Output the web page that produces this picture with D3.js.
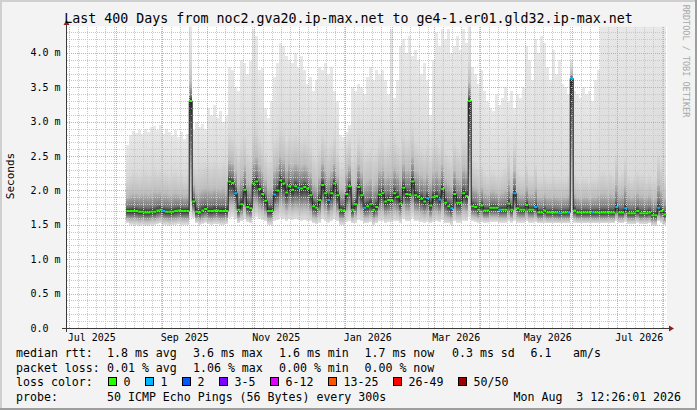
<!DOCTYPE html>
<html><head><meta charset="utf-8">
<script src="https://cdn.jsdelivr.net/npm/d3@7"></script>
<style>
body{margin:0;background:#f3f3f3;}
svg{display:block;}
text{font-family:"DejaVu Sans Mono",monospace;white-space:pre;}
</style>
</head><body>
<svg id="chart" width="697" height="410"></svg>
<script>
// ---------------- DATA ----------------
const title = "Last 400 Days from noc2.gva20.ip-max.net to ge4-1.er01.gld32.ip-max.net";
const endTime = new Date(Date.UTC(2026, 7, 3, 12, 26, 1));
const spanDays = 400;
const firstBin = new Date(Date.UTC(2025, 7, 8));
const binDays = 2;

// median rtt per bin (ms)
const median = [
1.70,1.70,1.70,1.70,1.69,1.69,1.68,1.68,1.69,1.69,
1.71,1.72,1.70,1.69,1.69,1.69,1.70,1.71,1.70,1.70,
1.70,3.30,1.84,1.69,1.68,1.71,1.73,1.70,1.70,1.71,
1.71,1.70,1.70,1.70,2.13,2.11,1.96,1.72,1.80,2.01,
1.76,1.74,2.10,2.13,2.02,1.95,1.85,1.70,1.70,1.94,
2.00,2.15,2.10,1.97,2.06,2.01,2.06,2.04,2.03,2.05,
2.03,1.93,1.77,1.75,1.86,2.08,1.96,1.86,1.96,2.10,
1.93,1.72,1.71,1.95,2.06,1.72,1.80,2.05,1.93,1.75,
1.77,1.80,1.72,1.76,1.94,1.96,1.84,1.86,1.86,1.96,
1.91,1.81,2.04,1.95,1.94,2.13,1.93,1.91,1.88,1.84,
1.89,1.78,1.90,1.92,1.87,2.02,1.82,1.77,1.74,1.95,
1.82,1.82,1.96,1.92,3.30,1.77,1.76,1.72,1.78,1.71,
1.71,1.75,1.75,1.75,1.72,1.72,1.72,1.81,1.72,1.96,
1.74,1.72,1.72,1.79,1.72,1.72,1.76,1.68,1.68,1.71,
1.68,1.68,1.68,1.68,1.67,1.68,1.68,1.68,3.63,1.71,
1.68,1.68,1.68,1.68,1.68,1.68,1.68,1.68,1.68,1.68,
1.68,1.68,1.68,1.76,1.68,1.68,1.74,1.67,1.67,1.67,
1.70,1.67,1.67,1.67,1.68,1.64,1.64,1.75,1.70,1.65
];
// lowest ping per bin (ms)
const smokeLow = [
1.52,1.50,1.50,1.50,1.49,1.50,1.49,1.49,1.50,1.50,
1.51,1.52,1.50,1.50,1.49,1.50,1.50,1.51,1.50,1.50,
1.50,1.62,1.60,1.52,1.50,1.51,1.53,1.51,1.50,1.51,
1.51,1.50,1.50,1.51,1.60,1.62,1.58,1.52,1.55,1.58,
1.54,1.52,1.60,1.62,1.58,1.57,1.55,1.50,1.50,1.56,
1.57,1.60,1.58,1.56,1.58,1.57,1.58,1.57,1.56,1.57,
1.56,1.55,1.52,1.51,1.53,1.58,1.55,1.53,1.55,1.58,
1.55,1.50,1.50,1.54,1.56,1.52,1.53,1.57,1.55,1.52,
1.52,1.54,1.50,1.52,1.55,1.56,1.53,1.54,1.54,1.56,
1.55,1.53,1.58,1.55,1.55,1.60,1.55,1.55,1.54,1.53,
1.54,1.52,1.54,1.55,1.54,1.57,1.52,1.52,1.50,1.55,
1.53,1.53,1.56,1.55,1.62,1.55,1.54,1.53,1.54,1.53,
1.53,1.54,1.54,1.54,1.53,1.53,1.53,1.55,1.53,1.56,
1.53,1.53,1.53,1.55,1.53,1.53,1.54,1.52,1.52,1.53,
1.52,1.52,1.52,1.52,1.52,1.52,1.52,1.52,1.60,1.53,
1.52,1.52,1.52,1.52,1.52,1.52,1.52,1.52,1.52,1.52,
1.52,1.52,1.52,1.55,1.52,1.52,1.54,1.51,1.51,1.51,
1.53,1.51,1.51,1.51,1.52,1.49,1.49,1.55,1.53,1.50
];
// upper edge of the dense smoke per bin (ms)
const smokeDense = [
2.20,2.25,2.30,2.28,2.25,2.30,2.32,2.28,2.30,2.35,
2.30,2.32,2.28,2.30,2.25,2.28,2.30,2.25,2.28,2.22,
2.25,3.90,2.40,2.35,2.38,2.40,2.42,2.45,2.40,2.45,
2.42,2.40,2.45,2.40,2.85,2.80,2.70,2.60,2.75,2.80,
2.60,2.55,2.90,2.95,2.80,2.70,2.55,2.45,2.50,2.75,
2.80,2.95,2.90,2.75,2.85,2.80,2.85,2.80,2.75,2.80,
2.75,2.70,2.55,2.50,2.65,2.85,2.75,2.65,2.70,2.80,
2.60,2.40,2.40,2.65,2.75,2.50,2.55,2.80,2.70,2.55,
2.60,2.65,2.55,2.60,2.75,2.80,2.65,2.70,2.75,2.80,
2.70,2.65,2.85,2.75,2.80,2.95,2.75,2.70,2.65,2.60,
2.70,2.55,2.70,2.75,2.65,2.85,2.60,2.55,2.50,2.75,
2.65,2.60,2.80,2.75,3.90,2.45,2.40,2.35,2.40,2.30,
2.25,2.30,2.30,2.25,2.25,2.30,2.35,2.60,2.30,2.70,
2.30,2.25,2.25,2.40,2.25,2.25,2.40,2.20,2.20,2.25,
2.20,2.20,2.25,2.20,2.20,2.20,2.20,2.25,3.80,2.25,
2.20,2.15,2.20,2.20,2.15,2.20,2.20,2.25,2.30,2.30,
2.25,2.30,2.25,2.55,2.25,2.30,2.50,2.25,2.20,2.25,
2.30,2.25,2.25,2.20,2.25,2.20,2.20,2.55,2.40,2.20
];
// highest ping per bin (ms)
const smokeMax = [
2.66,2.80,2.86,2.84,2.88,2.82,2.90,2.85,2.92,2.94,
2.88,2.95,2.82,2.90,2.85,2.80,2.88,2.78,2.85,2.75,
2.82,4.40,2.88,3.00,2.92,2.96,2.90,3.20,3.10,3.25,
3.05,3.15,3.00,3.10,3.80,3.75,3.50,3.45,3.90,3.85,
3.70,3.88,4.35,4.25,3.75,3.78,3.20,3.05,3.30,3.65,
3.85,4.15,4.10,3.95,3.90,3.85,4.00,3.80,3.95,3.75,
3.55,3.65,3.45,3.60,3.80,3.75,3.85,3.70,3.80,3.45,
3.30,2.80,2.78,2.85,2.95,3.50,3.45,3.55,3.50,3.40,
3.65,3.80,3.60,3.75,3.70,3.75,3.60,3.40,4.35,3.35,
3.60,4.10,4.20,4.00,4.25,3.95,4.05,3.90,3.70,3.85,
3.60,3.10,3.90,4.30,4.10,4.35,4.20,4.35,4.00,4.10,
4.25,4.05,4.35,4.15,4.40,3.80,3.70,3.55,3.75,3.45,
3.30,3.20,3.15,3.40,3.25,3.35,3.50,3.30,3.45,3.20,
3.40,3.35,3.50,4.10,3.90,3.60,4.20,4.00,4.25,4.15,
3.80,3.60,4.05,3.70,3.90,3.55,3.50,3.40,3.90,3.45,
3.40,3.35,3.50,3.40,3.45,3.30,3.60,3.75,4.40,4.40,
4.40,4.40,4.40,4.40,4.40,4.40,4.40,4.40,4.40,4.40,
4.40,4.40,4.40,4.40,4.40,4.40,4.40,4.40,4.40,4.40
];
// bins whose packet loss falls in the "1" class
const lossOneBins = [12,36,49,57,67,79,100,104,108,124,129,136,144,147,148,155,163,166,177];

const yTickValues = [0,0.5,1.0,1.5,2.0,2.5,3.0,3.5,4.0];
const yTickLabels = ["0.0","0.5 m","1.0 m","1.5 m","2.0 m","2.5 m","3.0 m","3.5 m","4.0 m"];
const yLabel = "Seconds";
const sideText = "RRDTOOL / TOBI OETIKER";

const rttLabel = "median rtt:";
const rttStats = ["1.8 ms avg","3.6 ms max","1.6 ms min","1.7 ms now","0.3 ms sd","6.1","am/s"];
const lossLabel = "packet loss:";
const lossStats = ["0.01 % avg","1.06 % max","0.00 % min","0.00 % now"];
const colorLabel = "loss color:";
const lossClasses = ["0","1","2","3-5","6-12","13-25","26-49","50/50"];
const probeLabel = "probe:";
const probeText = "50 ICMP Echo Pings (56 Bytes) every 300s";
const dateText = "Mon Aug  3 12:26:01 2026";

// ---------------- STYLE / LAYOUT ----------------
const lossColors = ["#26ff00","#00b8ff","#0059ff","#7e00ff","#dd00ff","#ff5500","#ff0000","#a10000"];
const W = 697, H = 410;
const P = {left:67, right:667, top:26.5, bottom:328};
const rttX = [107,193,279,364.5,452,530.5,573];
const lossX = [107,193,279,364.5];
const boxX = [108.5,145.5,182.5,219.5,270.5,328.5,393.5,458.5];

// ---------------- DRAW ----------------
const svg = d3.select("#chart");
const defs = svg.append("defs");

const startTime = new Date(endTime.getTime() - spanDays*864e5);
const x = d3.scaleUtc().domain([startTime, endTime]).range([P.left, P.right]);
const y = d3.scaleLinear().domain([0, 4.385]).range([P.bottom, P.top]);

// background + 3D border
svg.append("rect").attr("x",0).attr("y",0).attr("width",W).attr("height",H).attr("fill","#f3f3f3");
svg.append("rect").attr("x",0).attr("y",0).attr("width",W).attr("height",2).attr("fill","#cfcfcf");
svg.append("rect").attr("x",0).attr("y",0).attr("width",2).attr("height",H).attr("fill","#cfcfcf");
svg.append("rect").attr("x",0).attr("y",H-2).attr("width",W).attr("height",2).attr("fill","#9e9e9e");
svg.append("rect").attr("x",W-2).attr("y",0).attr("width",2).attr("height",H).attr("fill","#9e9e9e");

// canvas
svg.append("rect").attr("x",P.left).attr("y",P.top).attr("width",P.right-P.left).attr("height",P.bottom-P.top).attr("fill","#ffffff");

defs.append("clipPath").attr("id","plotclip").append("rect")
  .attr("x",P.left).attr("y",P.top).attr("width",P.right-P.left).attr("height",P.bottom-P.top);

const bins = median.map((m,i) => {
  const t0 = d3.utcDay.offset(firstBin, i*binDays);
  const t1 = d3.utcDay.offset(firstBin, (i+1)*binDays);
  return {i, t0, t1, med:m, lo:smokeLow[i], dense:smokeDense[i], hi:smokeMax[i],
          loss: lossOneBins.includes(i) ? 1 : 0};
});

// smoke
const smokeG = svg.append("g").attr("clip-path","url(#plotclip)");
bins.forEach(b => {
  const yTop = y(b.hi), yBot = y(b.lo), h = yBot - yTop;
  const off = v => Math.max(0, Math.min(1, (y(v) - yTop) / h));
  const g = defs.append("linearGradient").attr("id","sm"+b.i)
    .attr("gradientUnits","userSpaceOnUse").attr("x1",0).attr("x2",0).attr("y1",yTop).attr("y2",yBot);
  const stops = [
    [0,"#e8e8e8"],
    [off(b.dense),"#dadada"],
    [off(b.med + 0.45*(b.dense-b.med)),"#bdbdbd"],
    [off(b.med + 0.12*(b.dense-b.med)),"#767676"],
    [off(b.med),"#2a2a2a"],
    [off(b.med - 0.3*(b.med-b.lo)),"#727272"],
    [off(b.med - 0.65*(b.med-b.lo)),"#bababa"],
    [1,"#e2e2e2"]
  ];
  stops.forEach(s => g.append("stop").attr("offset",s[0]).attr("stop-color",s[1]));
  smokeG.append("rect")
    .attr("x", x(b.t0)).attr("width", x(b.t1)-x(b.t0))
    .attr("y", yTop).attr("height", h)
    .attr("fill","url(#sm"+b.i+")")
    .attr("shape-rendering","crispEdges");
});

// grid
const gridG = svg.append("g").attr("shape-rendering","crispEdges");
const minorY = d3.range(1, 44).map(k => k/10).filter(v => Math.abs(v*2 - Math.round(v*2)) > 1e-6);
minorY.forEach(v => {
  const yy = Math.round(y(v)) + 0.5;
  gridG.append("line").attr("x1",P.left).attr("x2",P.right).attr("y1",yy).attr("y2",yy)
    .attr("stroke","#c8c8c8").attr("stroke-dasharray","1,1");
});
const monthStarts = d3.utcMonth.range(startTime, endTime);
const monthSet = new Set(monthStarts.map(d => +d));
d3.utcDay.every(6).range(startTime, endTime).filter(d => !monthSet.has(+d)).forEach(d => {
  const xx = Math.round(x(d)) + 0.5;
  gridG.append("line").attr("x1",xx).attr("x2",xx).attr("y1",P.top).attr("y2",P.bottom)
    .attr("stroke","#c8c8c8").attr("stroke-dasharray","1,1");
});
yTickValues.filter(v => v > 0).forEach(v => {
  const yy = Math.round(y(v)) + 0.5;
  gridG.append("line").attr("x1",P.left).attr("x2",P.right).attr("y1",yy).attr("y2",yy)
    .attr("stroke","#f29a9a").attr("stroke-dasharray","1,1");
});
monthStarts.forEach(d => {
  const xx = Math.round(x(d)) + 0.5;
  gridG.append("line").attr("x1",xx).attr("x2",xx).attr("y1",P.top).attr("y2",P.bottom)
    .attr("stroke","#f29a9a").attr("stroke-dasharray","1,1");
});

// median line: dark step connectors + loss coloured segments
const medG = svg.append("g").attr("clip-path","url(#plotclip)");
const pts = [];
bins.forEach(b => { pts.push([x(b.t0), y(b.med)]); pts.push([x(b.t1), y(b.med)]); });
medG.append("path").attr("d", d3.line()(pts)).attr("fill","none").attr("stroke","#1c1c1c").attr("stroke-width",1);
bins.forEach(b => {
  medG.append("line").attr("x1",x(b.t0)).attr("x2",x(b.t1))
    .attr("y1",y(b.med)).attr("y2",y(b.med))
    .attr("stroke", lossColors[b.loss]).attr("stroke-width",2);
});

// axes
const axisCol = "#3a3a3a", arrowCol = "#8a2020";
svg.append("line").attr("x1",P.left-0.5).attr("x2",P.left-0.5).attr("y1",P.bottom+4).attr("y2",P.top-4)
  .attr("stroke",axisCol).attr("stroke-width",1);
svg.append("line").attr("x1",P.left-5).attr("x2",P.right+3).attr("y1",P.bottom+0.5).attr("y2",P.bottom+0.5)
  .attr("stroke",axisCol).attr("stroke-width",1);
svg.append("path").attr("d",`M${P.left-3.5},${P.top-1.5} L${P.left+2.5},${P.top-1.5} L${P.left-0.5},${P.top-6.5} Z`).attr("fill",arrowCol);
svg.append("path").attr("d",`M${P.right+2},${P.bottom-2.5} L${P.right+2},${P.bottom+3.5} L${P.right+7},${P.bottom+0.5} Z`).attr("fill",arrowCol);

// y tick labels
yTickValues.forEach((v,k) => {
  svg.append("text").attr("x",30.5).attr("y",y(v)+3.5).attr("font-size","10px").attr("fill","#000")
    .text(yTickLabels[k]);
});
// x tick labels (every two months, centred on the month)
d3.utcMonth.every(2).range(startTime, endTime).forEach(d => {
  const mid = d3.utcDay.offset(d, 15);
  svg.append("text").attr("x", x(mid)).attr("y", 341).attr("text-anchor","middle")
    .attr("font-size","10px").attr("fill","#000").text(d3.utcFormat("%b %Y")(d));
});

// title
svg.append("text").attr("x",348.5).attr("y",23).attr("text-anchor","middle").attr("font-size","13.3px").attr("fill","#000").text(title);
// y label
svg.append("text").attr("transform","translate(14,176) rotate(-90)").attr("text-anchor","middle")
  .attr("font-size","11px").attr("fill","#000").text(yLabel);
// side text
svg.append("text").attr("transform","translate(683,61) rotate(90)").attr("text-anchor","middle")
  .attr("font-size","8.5px").attr("fill","#a8a8a8").text(sideText);

// legend
const LF = "11.6px";
const lines = [357, 371.5, 386, 400.5];
svg.append("text").attr("x",16).attr("y",lines[0]).attr("font-size",LF).text(rttLabel);
rttStats.forEach((s,k) => svg.append("text").attr("x",rttX[k]).attr("y",lines[0]).attr("font-size",LF).text(s));
svg.append("text").attr("x",16).attr("y",lines[1]).attr("font-size",LF).text(lossLabel);
lossStats.forEach((s,k) => svg.append("text").attr("x",lossX[k]).attr("y",lines[1]).attr("font-size",LF).text(s));
svg.append("text").attr("x",16).attr("y",lines[2]).attr("font-size",LF).text(colorLabel);
lossClasses.forEach((s,k) => {
  svg.append("rect").attr("x",boxX[k]).attr("y",377.5).attr("width",8).attr("height",8)
    .attr("fill",lossColors[k]).attr("stroke","#000").attr("stroke-width",1);
  svg.append("text").attr("x",boxX[k]+15).attr("y",lines[2]).attr("font-size",LF).text(s);
});
svg.append("text").attr("x",16).attr("y",lines[3]).attr("font-size",LF).text(probeLabel);
svg.append("text").attr("x",107).attr("y",lines[3]).attr("font-size",LF).text(probeText);
svg.append("text").attr("x",513.5).attr("y",lines[3]).attr("font-size",LF).text(dateText);
</script>
</body></html>
